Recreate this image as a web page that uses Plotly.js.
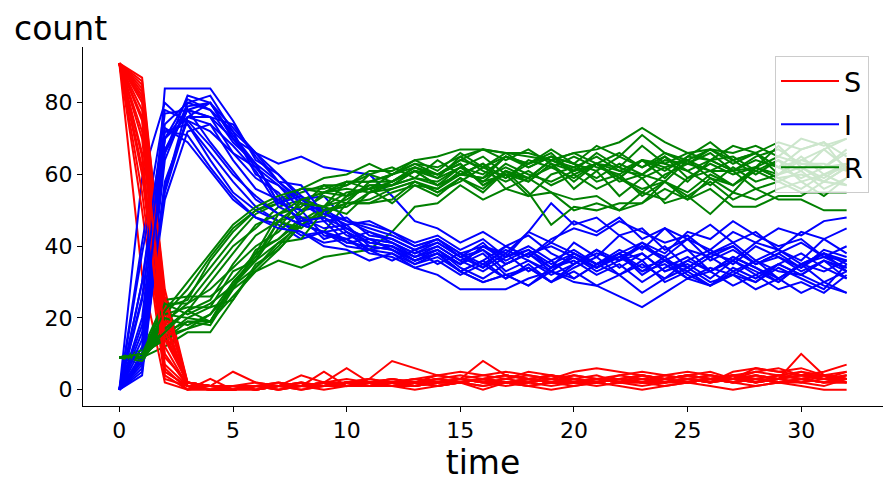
<!DOCTYPE html>
<html>
<head>
<meta charset="utf-8">
<script src="https://cdn.plot.ly/plotly-3.0.1.min.js"></script>
<style>html,body{margin:0;padding:0;background:#fff;}#chart{width:893px;height:489px;}</style>
</head>
<body>
<div id="chart"></div>
<script>
const time = [0,1,2,3,4,5,6,7,8,9,10,11,12,13,14,15,16,17,18,19,20,21,22,23,24,25,26,27,28,29,30,31,32];
const seriesNames = ['S','I','R'];
const seriesColors = ['#ff0000','#0000ff','#008000'];
const xTicks = [0,5,10,15,20,25,30];
const yTicks = [0,20,40,60,80];

const S_runs = [
[91,85,28,2,1, 1,1,1,1,1, 1,1, 2,2,3,2,3,4,3,2,3,2,3,2,2,3,4,3,2,3,4,4,2],
[91,86,4,0,0, 0,1,1,1,2, 1,2, 3,2,3,4,3,2,3,2,2,3,3,4,2,3,2,4,3,2,3,4,3],
[91,32,2,0,3, 0,0,1,1,0, 1,2, 1,2,2,3,2,3,5,4,3,2,3,2,4,5,4,3,2,4,3,2,4],
[91,50,3,1,0, 0,1,0,1,1, 2,1, 1,2,1,2,3,2,2,4,3,4,2,3,2,2,3,4,5,6,4,3,5],
[91,55,5,1,0, 1,0,1,1,2, 1,1, 2,3,2,3,4,5,4,3,2,2,3,2,3,4,5,3,6,5,6,4,3],
[91,60,7,1,1, 5,2,1,2,1, 2,3, 2,1,2,2,3,2,3,2,4,3,2,2,3,2,3,2,3,4,3,2,3],
[91,65,9,2,1, 1,1,2,1,1, 2,2, 3,2,4,3,2,3,4,3,5,6,5,4,3,4,3,4,2,3,4,3,2],
[91,70,12,1,0, 0,1,1,0,1, 1,2, 1,1,2,2,1,2,3,2,1,2,3,2,1,2,3,2,1,2,2,1,3],
[91,75,15,2,1, 0,1,1,4,2, 2,3, 2,1,2,3,2,1,2,3,2,1,2,2,3,4,3,3,5,4,3,4,5],
[91,78,18,2,1, 1,0,1,2,1, 1,1, 2,3,2,2,3,2,2,1,2,3,2,1,2,3,2,3,3,4,5,3,4],
[91,80,20,1,1, 0,1,1,1,2, 3,2, 2,3,4,5,4,3,2,3,4,3,2,3,4,3,2,3,4,3,2,3,4],
[91,81,22,2,0, 1,1,0,1,1, 2,1, 2,2,1,2,3,4,3,2,2,3,2,4,3,4,3,2,3,2,3,2,2],
[91,82,24,1,1, 1,2,1,1,2, 6,2, 1,2,3,2,3,2,1,2,3,2,4,3,2,3,4,3,2,3,4,3,3],
[91,83,18,1,0, 0,1,1,2,1, 2,2, 3,2,3,2,3,4,3,4,3,2,3,2,3,2,3,2,4,3,2,4,3],
[91,84,16,2,1, 1,0,1,1,2, 1,1, 2,1,2,2,1,2,3,2,2,3,2,4,3,2,3,4,3,2,3,2,2],
[91,87,26,2,1, 0,1,1,1,1, 2,1, 1,0,1,2,0,2,1,0,1,2,1,0,1,2,1,0,1,2,1,0,0],
[91,62,6,0,1, 1,1,2,1,5, 1,2, 2,1,2,3,2,2,3,4,2,3,4,5,4,3,2,5,6,5,4,5,7],
[91,72,10,1,0, 1,0,1,1,1, 2,1, 1,2,3,2,3,2,1,2,3,2,3,2,3,4,3,2,3,2,3,4,3],
[91,66,5,1,1, 1,1,1,0,1, 1,1, 2,2,1,2,3,2,2,3,2,3,2,3,2,3,2,3,4,3,10,4,3],
[91,76,14,2,1, 1,1,0,1,1, 2,3, 8,6,4,3,8,4,3,2,3,2,3,4,3,2,3,4,2,3,5,4,3]
];

const I_runs = [
[0,6,56,79,80, 73,66,63,65,62, 61,60, 54,47,45,41,44,40,43,38,35,39,34,38,33,36,39,35,40,37,34,38,36],
[0,5,84,84,84, 75,64,60,53,54, 47,46, 44,40,42,37,41,35,38,33,37,34,38,32,36,39,33,36,32,35,38,34,31],
[0,59,80,74,66, 58,51,47,43,44, 41,40, 39,35,38,33,36,31,35,30,34,37,32,35,31,36,33,37,34,30,35,38,33],
[0,41,78,75,68, 60,54,49,46,44, 42,44, 41,37,39,35,40,38,44,41,47,44,48,42,45,39,37,33,36,31,35,30,33],
[0,38,72,74,64, 55,50,47,44,41, 42,39, 40,36,39,34,31,35,38,34,41,37,43,39,45,42,46,41,44,39,36,42,38],
[0,30,72,71,62, 54,48,46,42,44, 40,39, 38,34,36,32,35,31,34,30,33,29,32,27,31,34,30,32,28,31,27,30,27],
[0,26,70,78,76, 74,65,58,52,48, 45,41, 40,37,39,35,38,32,34,30,35,38,36,40,37,42,39,44,41,45,43,47,48],
[0,20,74,80,82, 72,66,60,54,50, 47,45, 43,40,42,38,40,36,39,34,37,33,36,38,33,35,31,36,33,30,35,37,34],
[0,16,70,81,78, 72,60,57,52,50, 44,41, 40,36,38,33,30,32,29,33,31,35,32,36,30,33,29,34,31,35,32,36,33],
[0,12,67,78,80, 70,62,57,50,51, 45,42, 41,38,40,36,39,35,38,40,37,34,38,41,36,33,37,40,35,38,34,39,37],
[0,10,66,82,80, 71,63,52,54,47, 48,43, 42,39,41,37,34,38,33,36,31,35,38,33,37,32,29,33,30,34,31,28,35],
[0,8,53,72,74, 68,61,51,48,42, 44,39, 36,39,35,38,34,40,37,42,45,43,47,44,41,43,38,40,35,37,33,36,31],
[0,9,55,76,76, 66,62,54,46,47, 41,42, 39,36,38,35,40,37,44,52,46,48,43,45,39,42,36,39,35,38,41,37,40],
[0,8,58,75,72, 66,59,55,48,45, 46,40, 39,36,38,33,30,32,29,34,36,32,35,30,34,37,33,37,34,31,35,33,36],
[0,7,64,80,78, 69,63,52,50,43, 42,38, 37,34,32,28,28,28,31,33,30,29,26,23,27,31,29,32,30,35,32,29,27],
[0,4,57,76,80, 70,63,58,53,49, 47,44, 42,39,42,38,35,39,36,33,38,35,37,40,36,34,38,36,41,39,44,42,45],
[0,30,77,78,69, 61,53,49,46,44, 45,42, 41,38,41,37,39,33,36,32,35,39,36,41,38,44,42,47,43,40,42,37,36],
[0,18,66,78,76, 70,66,58,57,49, 46,47, 44,41,43,39,42,37,40,36,39,35,38,34,36,31,33,29,32,28,30,27,32],
[0,25,73,69,61, 53,48,45,44,40, 39,36, 38,35,37,33,36,40,37,41,38,34,37,33,35,31,34,32,36,33,32,36,34],
[0,14,70,76,74, 64,56,53,47,48, 43,41, 40,37,40,36,33,37,39,35,38,35,39,36,40,34,38,41,36,39,35,38,35]
];

const R_runs = [
[9,9,16,19,19, 26,33,36,34,37, 38,39, 44,51,52,57,53,56,54,60,62,59,63,60,65,61,57,62,58,60,62,58,62],
[9,9,12,16,16, 25,35,39,46,44, 52,52, 53,58,55,59,56,61,59,64,61,63,59,64,62,58,64,61,64,62,59,62,66],
[9,9,18,26,34, 42,49,52,56,56, 58,58, 60,63,60,64,62,66,62,65,63,61,65,62,65,59,63,60,62,68,62,59,63],
[9,9,19,24,32, 40,45,51,53,55, 56,55, 58,61,60,63,57,60,54,55,50,52,50,55,53,59,61,64,60,64,61,67,62],
[9,7,23,25,36, 44,50,52,55,57, 57,60, 58,61,59,62,65,60,58,63,56,61,54,59,52,54,49,55,53,56,58,54,59],
[9,10,21,28,37, 45,50,53,56,55, 58,58, 60,64,61,66,62,65,63,67,63,68,65,71,66,64,67,66,68,65,70,68,70],
[9,9,21,20,23, 25,34,40,47,51, 53,57, 57,61,57,62,60,65,63,66,60,56,59,56,58,54,58,53,56,53,53,50,50],
[9,10,14,19,18, 28,33,39,46,49, 52,53, 56,58,56,60,59,62,59,64,62,65,61,60,64,63,66,61,65,67,63,62,63],
[9,9,15,17,21, 28,39,42,47,48, 54,56, 58,62,60,64,67,66,66,64,66,63,66,62,66,63,67,63,66,60,65,60,62],
[9,10,15,20,19, 29,38,42,48,48, 54,57, 57,59,58,62,58,63,60,58,61,63,59,55,60,63,61,57,61,58,61,56,59],
[9,10,14,17,19, 29,36,47,45,51, 49,55, 56,58,55,58,62,59,64,62,65,62,60,64,59,65,69,64,66,62,67,69,61],
[9,11,25,26,26, 31,38,49,51,57, 54,60, 62,59,64,60,63,56,59,55,53,54,50,52,56,53,59,57,62,60,64,62,67],
[9,9,21,23,23, 33,36,45,53,51, 58,56, 60,62,60,63,57,61,55,46,51,50,52,52,58,55,60,57,62,59,56,60,57],
[9,9,24,24,28, 34,40,44,50,54, 52,58, 58,62,59,65,67,64,67,63,61,66,62,68,63,61,64,61,62,65,63,63,61],
[9,9,20,18,21, 30,37,47,49,55, 57,61, 61,64,65,67,67,66,65,64,66,67,69,73,69,66,67,64,66,62,64,67,70],
[9,9,17,22,19, 30,36,41,46,50, 51,55, 57,59,57,60,63,59,63,65,61,63,62,59,62,64,61,61,56,58,55,55,55],
[9,8,17,22,30, 38,46,49,53,55, 54,56, 57,61,57,60,59,65,62,65,63,58,60,54,58,53,56,51,51,54,54,58,57],
[9,10,24,21,24, 29,34,41,42,50, 52,52, 55,57,54,59,55,61,58,63,58,63,59,64,61,65,64,68,66,69,67,69,65],
[9,9,22,30,38, 46,51,54,56,59, 60,63, 60,63,62,65,61,58,61,57,60,63,61,64,63,66,64,65,61,64,58,60,63],
[9,10,16,22,25, 35,43,47,52,51, 55,56, 52,57,56,61,58,60,59,62,59,63,58,60,58,64,59,55,62,59,60,58,62]
];

const allRuns = [S_runs, I_runs, R_runs];
const traces = [];
for (let r = 0; r < S_runs.length; r++) {
  for (let k = 0; k < 3; k++) {
    traces.push({
      x: time,
      y: allRuns[k][r],
      type: 'scatter',
      mode: 'lines',
      name: seriesNames[k],
      legendgroup: seriesNames[k],
      showlegend: r === 0,
      line: {color: seriesColors[k], width: 2},
      hoverinfo: 'skip'
    });
  }
}

const font = 'DejaVu Sans, Liberation Sans, sans-serif';
const layout = {
  width: 893,
  height: 489,
  margin: {l: 83, r: 10, t: 47, b: 83},
  paper_bgcolor: '#ffffff',
  plot_bgcolor: '#ffffff',
  font: {family: font, color: '#000000'},
  showlegend: true,
  xaxis: {
    range: [-1.6, 33.6],
    tickvals: xTicks,
    ticktext: xTicks.map(String),
    ticks: 'outside',
    ticklen: 5,
    tickwidth: 1,
    tickcolor: '#000',
    showline: true,
    linecolor: '#000',
    linewidth: 1,
    showgrid: false,
    zeroline: false,
    tickfont: {size: 22, family: font},
    title: {text: 'time', font: {size: 33, family: font}, standoff: 6}
  },
  yaxis: {
    range: [-4.55, 95.55],
    tickvals: yTicks,
    ticktext: yTicks.map(String),
    ticks: 'outside',
    ticklen: 5,
    tickwidth: 1,
    tickcolor: '#000',
    showline: true,
    linecolor: '#000',
    linewidth: 1,
    showgrid: false,
    zeroline: false,
    tickfont: {size: 22, family: font}
  },
  legend: {
    x: 0.9825,
    xanchor: 'right',
    y: 0.975,
    yanchor: 'top',
    bgcolor: 'rgba(255,255,255,0.8)',
    bordercolor: '#cccccc',
    borderwidth: 1,
    font: {size: 27, family: font},
    traceorder: 'grouped',
    tracegroupgap: 5,
    itemwidth: 58
  },
  annotations: [{
    text: 'count',
    xref: 'paper', yref: 'paper',
    x: -0.0888, y: 1,
    xanchor: 'left', yanchor: 'bottom',
    yshift: -3,
    showarrow: false,
    font: {size: 33, family: font}
  }]
};

Plotly.newPlot('chart', traces, layout, {displayModeBar: false, staticPlot: true});
</script>
</body>
</html>
